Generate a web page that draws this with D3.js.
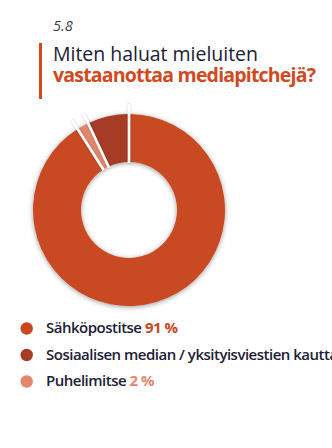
<!DOCTYPE html>
<html><head><meta charset="utf-8">
<script src="https://cdn.jsdelivr.net/npm/d3@7"></script>
<style>
html,body{margin:0;padding:0;background:#fff;}
svg{display:block;}
</style></head>
<body>
<script>
const chartNumber = "5.8";
const titleLine1 = "Miten haluat mieluiten";
const titleLine2 = "vastaanottaa mediapitchejä?";
const categories = ["Sähköpostitse", "Sosiaalisen median / yksityisviestien kautta", "Puhelimitse"];
const values = [91, 7, 2];
const colors = ["#C94821", "#A63B26", "#E4866D"];
const drawOrder = [0, 2, 1];

const W = 332, H = 448;
const FONT = "'Open Sans', 'Noto Sans', sans-serif";
const svg = d3.select("body").append("svg").attr("width", W).attr("height", H);
const defs = svg.append("defs");
const f = defs.append("filter").attr("id","sh").attr("x","-20%").attr("y","-20%").attr("width","140%").attr("height","140%");
f.append("feDropShadow").attr("dx",0).attr("dy",1).attr("stdDeviation",2.4).attr("flood-color","#000").attr("flood-opacity",0.4);
const f2 = defs.append("filter").attr("id","sh2").attr("x","-50%").attr("y","-50%").attr("width","200%").attr("height","200%");
f2.append("feDropShadow").attr("dx",0).attr("dy",0).attr("stdDeviation",0.8).attr("flood-color","#000").attr("flood-opacity",0.3);

function fitLS(sel, target){
  const n = sel.text().length;
  const w = sel.node().getComputedTextLength();
  sel.attr("letter-spacing", ((target - w) / (n - 1)).toFixed(3));
}

// Title
svg.append("text").attr("x",53).attr("y",31).attr("font-family",FONT).attr("font-style","italic")
  .attr("font-size",14.5).attr("fill","#3c4050").text(chartNumber);
svg.append("rect").attr("x",39).attr("y",43).attr("width",3).attr("height",56).attr("fill","#D2491E");
const t1 = svg.append("text").attr("x",53).attr("y",60.5).attr("font-family",FONT)
  .attr("font-size",19.5).attr("fill","#1b2035").text(titleLine1);
const t2 = svg.append("text").attr("x",53).attr("y",81.5).attr("font-family",FONT).attr("font-weight",700)
  .attr("font-size",19.5).attr("fill","#D2491E").text(titleLine2);
fitLS(t1, 205); fitLS(t2, 263);

// Donut
const cx = 129, cy = 210, rOut = 96, rIn = 48;
const pie = d3.pie().sort(null).value(i => values[i]);
const arcs = pie(drawOrder);
const arc = d3.arc().innerRadius(rIn).outerRadius(rOut);
const g = svg.append("g").attr("transform",`translate(${cx},${cy})`);
g.append("g").attr("filter","url(#sh)").selectAll("path").data(arcs).join("path")
  .attr("d", arc).attr("fill", d => colors[d.data]);
const sep = g.append("g").attr("filter","url(#sh2)");
arcs.forEach(d => {
  const a = d.startAngle;
  sep.append("line")
    .attr("x1", Math.sin(a)*(rIn-1)).attr("y1", -Math.cos(a)*(rIn-1))
    .attr("x2", Math.sin(a)*(rOut+10)).attr("y2", -Math.cos(a)*(rOut+10))
    .attr("stroke","#fff").attr("stroke-width",2.6);
});

// Legend
const lg = svg.append("g");
categories.forEach((c, i) => {
  const y = 333 + i*26.5;
  lg.append("circle").attr("cx",26.7).attr("cy",y-4.5).attr("r",6.2).attr("fill",colors[i]);
  const t = lg.append("text").attr("x",46).attr("y",y).attr("font-family",FONT)
    .attr("font-size",15).attr("font-weight",600).attr("fill","#1b2035").attr("letter-spacing",-0.5);
  t.append("tspan").text(c + " ");
  t.append("tspan").attr("font-weight",700).attr("fill",colors[i]).text(values[i] + " %");
});
</script>
</body></html>
